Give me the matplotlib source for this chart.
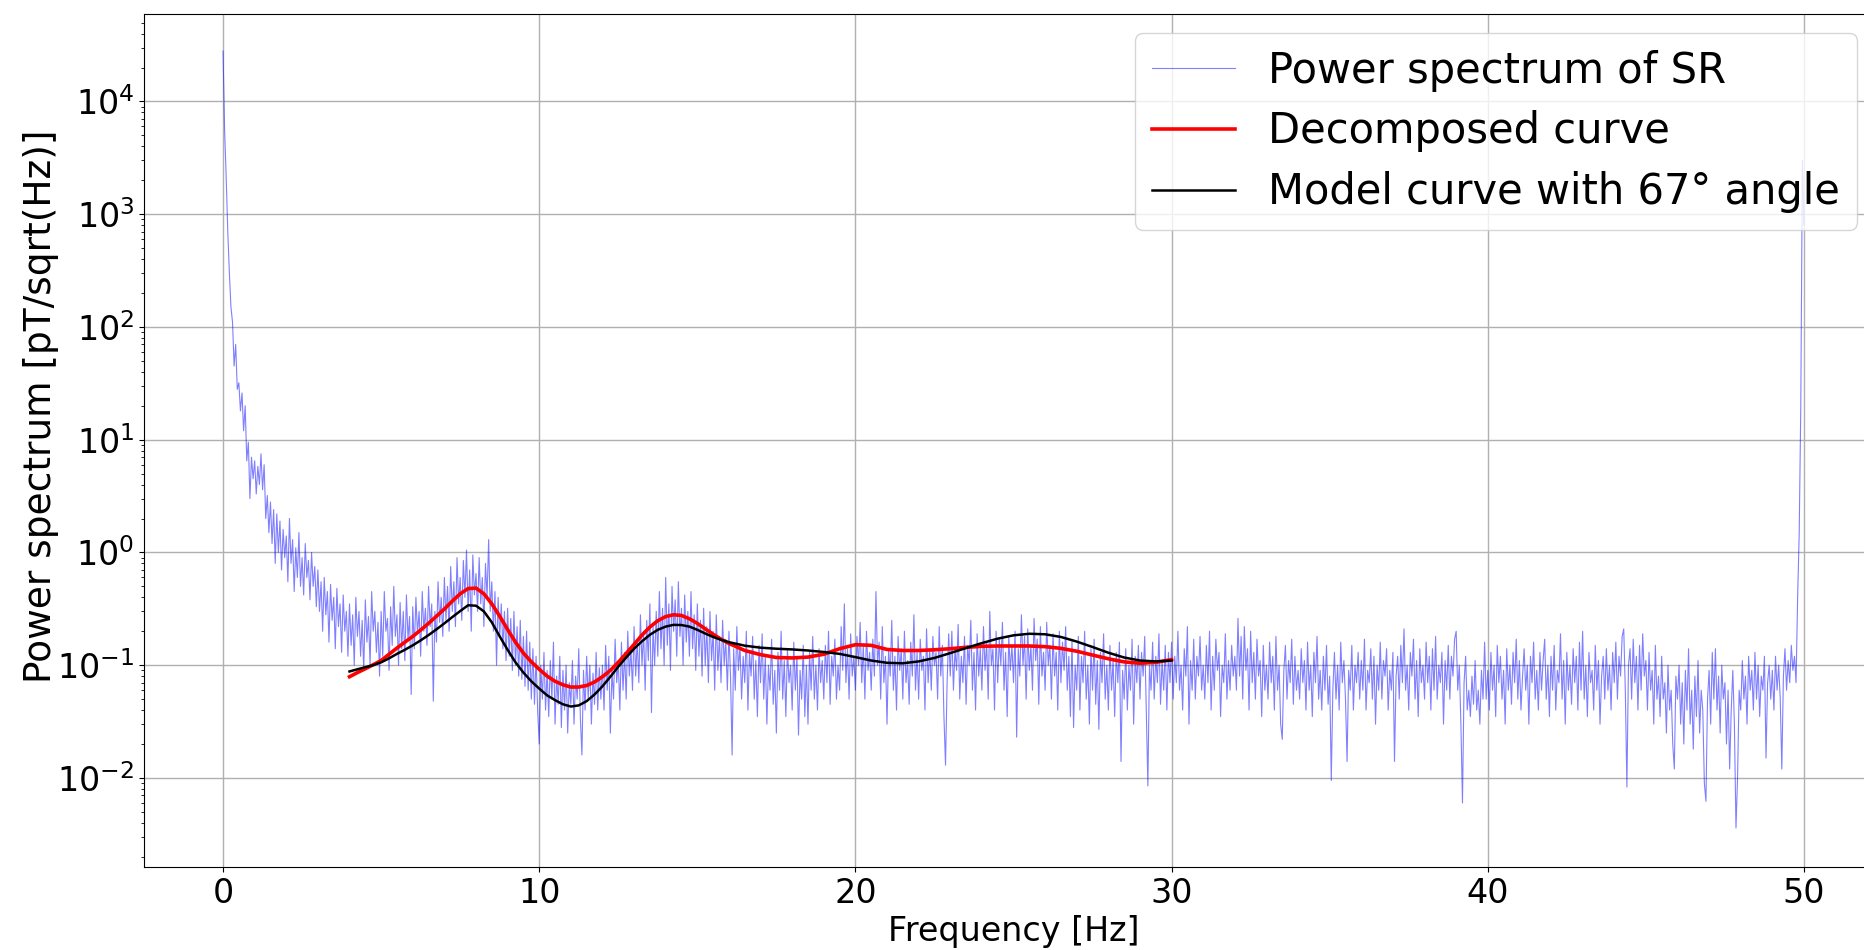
import numpy as np
import matplotlib
matplotlib.use("Agg")
import matplotlib.pyplot as plt

# ---------------- data ----------------
freq_step = 0.05  # Hz between spectrum samples

# Power spectrum of SR, one line per Hz (20 samples each), 0 .. 50 Hz
psd_values = [
    28000, 5500, 2100, 700, 300, 150, 110, 45, 70, 28, 32, 18, 26, 12, 20, 6.5, 9.5, 3.0, 7.0, 4.5,
    6.5, 3.3, 5.8, 4.0, 7.5, 3.6, 6.0, 2.0, 3.2, 1.5, 2.8, 1.2, 2.4, 0.8, 2.2, 1.0, 1.9, 0.7, 1.6, 0.9,
    1.4, 0.55, 2.0, 0.8, 1.3, 0.45, 1.1, 0.6, 1.5, 0.5, 0.9, 0.42, 1.2, 0.6, 0.85, 0.38, 1.0, 0.5, 0.75, 0.33,
    0.7, 0.3, 0.55, 0.2, 0.6, 0.28, 0.45, 0.16, 0.52, 0.25, 0.4, 0.14, 0.48, 0.22, 0.35, 0.13, 0.42, 0.2, 0.3, 0.12,
    0.35, 0.15, 0.28, 0.1, 0.4, 0.18, 0.3, 0.12, 0.25, 0.09, 0.38, 0.16, 0.27, 0.1, 0.45, 0.2, 0.3, 0.13, 0.24, 0.08,
    0.3, 0.12, 0.45, 0.2, 0.26, 0.09, 0.33, 0.15, 0.5, 0.18, 0.28, 0.1, 0.36, 0.14, 0.3, 0.11, 0.42, 0.17, 0.27, 0.055,
    0.33, 0.14, 0.4, 0.19, 0.3, 0.12, 0.45, 0.2, 0.32, 0.15, 0.5, 0.22, 0.35, 0.048, 0.3, 0.16, 0.55, 0.24, 0.4, 0.18,
    0.6, 0.25, 0.5, 0.2, 0.75, 0.3, 0.55, 0.22, 0.9, 0.35, 0.6, 0.25, 0.85, 0.4, 1.05, 0.3, 0.7, 0.2, 0.95, 0.42,
    0.65, 0.3, 0.9, 0.35, 0.6, 0.22, 0.8, 0.4, 1.3, 0.3, 0.55, 0.2, 0.45, 0.1, 0.4, 0.18, 0.35, 0.14, 0.3, 0.11,
    0.32, 0.12, 0.26, 0.09, 0.3, 0.1, 0.22, 0.08, 0.25, 0.075, 0.18, 0.065, 0.2, 0.06, 0.16, 0.05, 0.14, 0.045, 0.12, 0.04,
    0.02, 0.1, 0.05, 0.13, 0.04, 0.09, 0.035, 0.11, 0.05, 0.16, 0.03, 0.08, 0.045, 0.12, 0.028, 0.09, 0.04, 0.1, 0.025, 0.07,
    0.045, 0.11, 0.03, 0.08, 0.05, 0.14, 0.035, 0.016, 0.09, 0.04, 0.12, 0.05, 0.1, 0.03, 0.085, 0.045, 0.13, 0.04, 0.095, 0.05,
    0.1, 0.04, 0.15, 0.06, 0.12, 0.025, 0.09, 0.05, 0.17, 0.07, 0.11, 0.04, 0.16, 0.06, 0.13, 0.05, 0.2, 0.08, 0.14, 0.06,
    0.22, 0.08, 0.17, 0.07, 0.28, 0.1, 0.2, 0.06, 0.25, 0.11, 0.35, 0.038, 0.22, 0.1, 0.3, 0.12, 0.45, 0.14, 0.32, 0.1,
    0.6, 0.15, 0.35, 0.09, 0.5, 0.2, 0.38, 0.12, 0.55, 0.18, 0.32, 0.1, 0.42, 0.16, 0.3, 0.12, 0.45, 0.14, 0.28, 0.09,
    0.35, 0.12, 0.25, 0.08, 0.32, 0.1, 0.22, 0.07, 0.3, 0.11, 0.2, 0.06, 0.28, 0.09, 0.18, 0.07, 0.25, 0.1, 0.17, 0.06,
    0.2, 0.08, 0.016, 0.14, 0.06, 0.22, 0.09, 0.15, 0.05, 0.12, 0.07, 0.2, 0.04, 0.13, 0.08, 0.18, 0.05, 0.11, 0.035, 0.15,
    0.07, 0.19, 0.05, 0.12, 0.03, 0.1, 0.06, 0.17, 0.045, 0.09, 0.025, 0.13, 0.06, 0.2, 0.05, 0.11, 0.035, 0.14, 0.07, 0.1,
    0.04, 0.16, 0.06, 0.12, 0.024, 0.09, 0.05, 0.15, 0.035, 0.1, 0.03, 0.13, 0.06, 0.18, 0.05, 0.1, 0.04, 0.14, 0.07, 0.11,
    0.05, 0.15, 0.07, 0.2, 0.045, 0.12, 0.08, 0.17, 0.05, 0.1, 0.06, 0.22, 0.09, 0.35, 0.07, 0.14, 0.05, 0.19, 0.08, 0.12,
    0.06, 0.18, 0.1, 0.24, 0.07, 0.15, 0.05, 0.2, 0.09, 0.13, 0.06, 0.17, 0.08, 0.45, 0.1, 0.16, 0.05, 0.22, 0.07, 0.12,
    0.03, 0.14, 0.08, 0.25, 0.06, 0.12, 0.04, 0.18, 0.09, 0.14, 0.05, 0.2, 0.07, 0.11, 0.045, 0.16, 0.08, 0.28, 0.06, 0.13,
    0.05, 0.17, 0.09, 0.12, 0.04, 0.21, 0.07, 0.14, 0.06, 0.18, 0.1, 0.13, 0.05, 0.22, 0.08, 0.15, 0.035, 0.013, 0.07, 0.19,
    0.08, 0.2, 0.06, 0.14, 0.09, 0.23, 0.05, 0.12, 0.07, 0.18, 0.045, 0.15, 0.1, 0.25, 0.06, 0.13, 0.04, 0.19, 0.08, 0.14,
    0.06, 0.22, 0.09, 0.16, 0.05, 0.3, 0.1, 0.14, 0.04, 0.2, 0.07, 0.17, 0.1, 0.24, 0.06, 0.13, 0.035, 0.18, 0.09, 0.15,
    0.07, 0.2, 0.023, 0.14, 0.08, 0.28, 0.1, 0.18, 0.05, 0.21, 0.09, 0.15, 0.06, 0.26, 0.11, 0.17, 0.045, 0.22, 0.08, 0.13,
    0.06, 0.24, 0.1, 0.15, 0.05, 0.19, 0.08, 0.13, 0.04, 0.2, 0.07, 0.16, 0.09, 0.22, 0.06, 0.12, 0.035, 0.17, 0.028, 0.1,
    0.06, 0.18, 0.04, 0.12, 0.07, 0.2, 0.05, 0.1, 0.03, 0.14, 0.06, 0.17, 0.045, 0.11, 0.027, 0.13, 0.07, 0.19, 0.05, 0.1,
    0.04, 0.15, 0.06, 0.11, 0.035, 0.13, 0.07, 0.16, 0.014, 0.09, 0.05, 0.14, 0.04, 0.1, 0.06, 0.17, 0.03, 0.12, 0.07, 0.15,
    0.05, 0.13, 0.08, 0.18, 0.04, 0.0085, 0.1, 0.06, 0.16, 0.05, 0.12, 0.07, 0.19, 0.045, 0.11, 0.06, 0.15, 0.04, 0.13, 0.07,
    0.16, 0.05, 0.12, 0.07, 0.2, 0.06, 0.1, 0.04, 0.14, 0.08, 0.22, 0.03, 0.11, 0.06, 0.17, 0.05, 0.12, 0.08, 0.18, 0.06,
    0.1, 0.05, 0.15, 0.07, 0.2, 0.04, 0.12, 0.06, 0.17, 0.09, 0.13, 0.035, 0.1, 0.07, 0.19, 0.05, 0.11, 0.06, 0.15, 0.08,
    0.12, 0.06, 0.26, 0.08, 0.18, 0.05, 0.22, 0.09, 0.14, 0.04, 0.2, 0.07, 0.13, 0.05, 0.17, 0.08, 0.11, 0.035, 0.15, 0.06,
    0.1, 0.05, 0.16, 0.07, 0.12, 0.04, 0.18, 0.06, 0.1, 0.03, 0.022, 0.09, 0.15, 0.05, 0.11, 0.07, 0.17, 0.045, 0.12, 0.06,
    0.09, 0.05, 0.14, 0.07, 0.11, 0.04, 0.16, 0.06, 0.1, 0.035, 0.13, 0.07, 0.18, 0.05, 0.09, 0.04, 0.12, 0.06, 0.15, 0.045,
    0.08, 0.0095, 0.06, 0.13, 0.05, 0.1, 0.04, 0.16, 0.07, 0.11, 0.05, 0.014, 0.09, 0.06, 0.15, 0.04, 0.1, 0.07, 0.13, 0.05,
    0.11, 0.06, 0.17, 0.04, 0.09, 0.07, 0.14, 0.05, 0.12, 0.03, 0.1, 0.06, 0.16, 0.05, 0.11, 0.08, 0.14, 0.04, 0.09, 0.06,
    0.13, 0.014, 0.08, 0.12, 0.05, 0.15, 0.07, 0.21, 0.06, 0.1, 0.04, 0.13, 0.08, 0.17, 0.05, 0.11, 0.035, 0.14, 0.07, 0.1,
    0.05, 0.16, 0.07, 0.12, 0.04, 0.14, 0.06, 0.18, 0.05, 0.1, 0.07, 0.13, 0.03, 0.11, 0.06, 0.15, 0.05, 0.12, 0.08, 0.17,
    0.2, 0.06, 0.1, 0.03, 0.006, 0.07, 0.12, 0.04, 0.06, 0.035, 0.08, 0.045, 0.11, 0.04, 0.06, 0.03, 0.09, 0.05, 0.16, 0.05,
    0.09, 0.04, 0.13, 0.06, 0.1, 0.035, 0.15, 0.07, 0.12, 0.05, 0.09, 0.03, 0.14, 0.06, 0.1, 0.045, 0.13, 0.07, 0.17, 0.05,
    0.11, 0.04, 0.08, 0.14, 0.06, 0.1, 0.03, 0.12, 0.07, 0.16, 0.05, 0.09, 0.04, 0.13, 0.06, 0.11, 0.17, 0.05, 0.1, 0.035,
    0.12, 0.06, 0.15, 0.04, 0.09, 0.07, 0.19, 0.05, 0.11, 0.03, 0.13, 0.06, 0.1, 0.045, 0.14, 0.07, 0.12, 0.04, 0.16, 0.06,
    0.2, 0.05, 0.1, 0.035, 0.13, 0.07, 0.09, 0.04, 0.15, 0.06, 0.11, 0.03, 0.08, 0.12, 0.05, 0.14, 0.06, 0.1, 0.04, 0.13,
    0.07, 0.16, 0.05, 0.12, 0.08, 0.18, 0.21, 0.06, 0.0083, 0.1, 0.14, 0.05, 0.17, 0.07, 0.12, 0.04, 0.15, 0.06, 0.19, 0.08,
    0.11, 0.04, 0.13, 0.06, 0.09, 0.03, 0.15, 0.05, 0.08, 0.035, 0.12, 0.05, 0.07, 0.025, 0.1, 0.04, 0.06, 0.02, 0.012, 0.08,
    0.05, 0.1, 0.03, 0.07, 0.02, 0.09, 0.04, 0.14, 0.03, 0.06, 0.018, 0.08, 0.035, 0.11, 0.025, 0.06, 0.04, 0.009, 0.0062, 0.05,
    0.09, 0.03, 0.13, 0.05, 0.14, 0.04, 0.08, 0.025, 0.1, 0.05, 0.07, 0.02, 0.06, 0.012, 0.04, 0.09, 0.03, 0.0036, 0.01, 0.06,
    0.04, 0.11, 0.05, 0.08, 0.03, 0.12, 0.06, 0.09, 0.04, 0.13, 0.05, 0.1, 0.035, 0.08, 0.06, 0.12, 0.015, 0.07, 0.1, 0.05,
    0.09, 0.04, 0.12, 0.06, 0.1, 0.05, 0.012, 0.08, 0.14, 0.06, 0.11, 0.07, 0.15, 0.09, 0.12, 0.07, 0.4, 1.5, 20, 3000,
    800,
]

# Smooth curves (4 .. 30 Hz): 0.25 Hz steps up to 16 Hz, 0.5 Hz steps beyond
curve_freq = [4.0, 4.25, 4.5, 4.75, 5.0, 5.25, 5.5, 5.75, 6.0, 6.25, 6.5, 6.75,
              7.0, 7.25, 7.5, 7.75, 8.0, 8.25, 8.5, 8.75, 9.0, 9.25, 9.5, 9.75,
              10.0, 10.25, 10.5, 10.75, 11.0, 11.25, 11.5, 11.75, 12.0, 12.25, 12.5, 12.75,
              13.0, 13.25, 13.5, 13.75, 14.0, 14.25, 14.5, 14.75, 15.0, 15.25, 15.5, 15.75,
              16.0, 16.5, 17.0, 17.5, 18.0, 18.5, 19.0, 19.5, 20.0, 20.5, 21.0, 21.5,
              22.0, 22.5, 23.0, 23.5, 24.0, 24.5, 25.0, 25.5, 26.0, 26.5, 27.0, 27.5,
              28.0, 28.5, 29.0, 29.5, 30.0]
decomposed_curve = [0.079, 0.086, 0.093, 0.101, 0.11, 0.125, 0.142, 0.16, 0.18, 0.205, 0.235, 0.272,
                    0.315, 0.37, 0.43, 0.478, 0.483, 0.43, 0.35, 0.272, 0.207, 0.16, 0.128, 0.107,
                    0.092, 0.08, 0.072, 0.067, 0.064, 0.064, 0.066, 0.071, 0.079, 0.09, 0.106, 0.127,
                    0.153, 0.185, 0.218, 0.248, 0.27, 0.28, 0.276, 0.258, 0.235, 0.21, 0.188, 0.17,
                    0.156, 0.135, 0.124, 0.117, 0.116, 0.118, 0.125, 0.14, 0.152, 0.15, 0.138, 0.135,
                    0.135, 0.137, 0.14, 0.144, 0.147, 0.148, 0.148, 0.148, 0.146, 0.141, 0.133, 0.123,
                    0.114, 0.107, 0.104, 0.106, 0.112]
model_curve = [0.088, 0.092, 0.096, 0.1, 0.106, 0.115, 0.126, 0.137, 0.15, 0.166, 0.185, 0.208,
               0.235, 0.267, 0.302, 0.34, 0.337, 0.3, 0.24, 0.18, 0.137, 0.106, 0.086, 0.072,
               0.062, 0.054, 0.049, 0.045, 0.043, 0.044, 0.048, 0.055, 0.065, 0.079, 0.097, 0.117,
               0.14, 0.163, 0.186, 0.206, 0.22, 0.228, 0.227, 0.22, 0.206, 0.191, 0.178, 0.168,
               0.16, 0.149, 0.143, 0.14, 0.138, 0.135, 0.131, 0.126, 0.118, 0.11, 0.105, 0.104,
               0.108, 0.116, 0.128, 0.142, 0.157, 0.172, 0.184, 0.19, 0.188, 0.178, 0.162, 0.145,
               0.129, 0.117, 0.11, 0.108, 0.11]

labels = ["Power spectrum of SR", "Decomposed curve", "Model curve with 67\u00b0 angle"]
x_ticks = [0, 10, 20, 30, 40, 50]

assert len(psd_values) == 1001, len(psd_values)
assert len(curve_freq) == len(decomposed_curve) == len(model_curve)
freq = np.arange(len(psd_values)) * freq_step

# ---------------- figure ----------------
W, H = 1865, 950
fig = plt.figure(figsize=(W / 100, H / 100), dpi=100)
left_px, right_px, top_px, bottom_px = 144, 1883, 14, 867
ax = fig.add_axes([left_px / W, 1 - bottom_px / H,
                   (right_px - left_px) / W, (bottom_px - top_px) / H])

ax.plot(freq, psd_values, color="blue", lw=0.8, alpha=0.5, label=labels[0])
ax.plot(curve_freq, decomposed_curve, color="red", lw=2.6, label=labels[1])
ax.plot(curve_freq, model_curve, color="black", lw=1.8, label=labels[2])

ax.set_yscale("log")
ax.set_xlim(-2.5, 52.5)
ax.set_ylim(10 ** -2.79, 10 ** 4.776)
ax.set_xticks(x_ticks)
ax.grid(True, which="major", color="#b0b0b0", lw=1.0)
ax.tick_params(axis="both", which="major", labelsize=24)

ax.set_xlabel("Frequency [Hz]", fontsize=24)
ax.set_ylabel("Power spectrum [pT/sqrt(Hz)]", fontsize=27)
ax.yaxis.set_label_coords(-0.049, 0.54)

leg = ax.legend(loc="upper right", bbox_to_anchor=(1857 / W, 1 - 33 / H),
                bbox_transform=fig.transFigure, borderaxespad=0.0,
                fontsize=30, labelspacing=0.45)

fig.savefig("out.png", dpi=100)
